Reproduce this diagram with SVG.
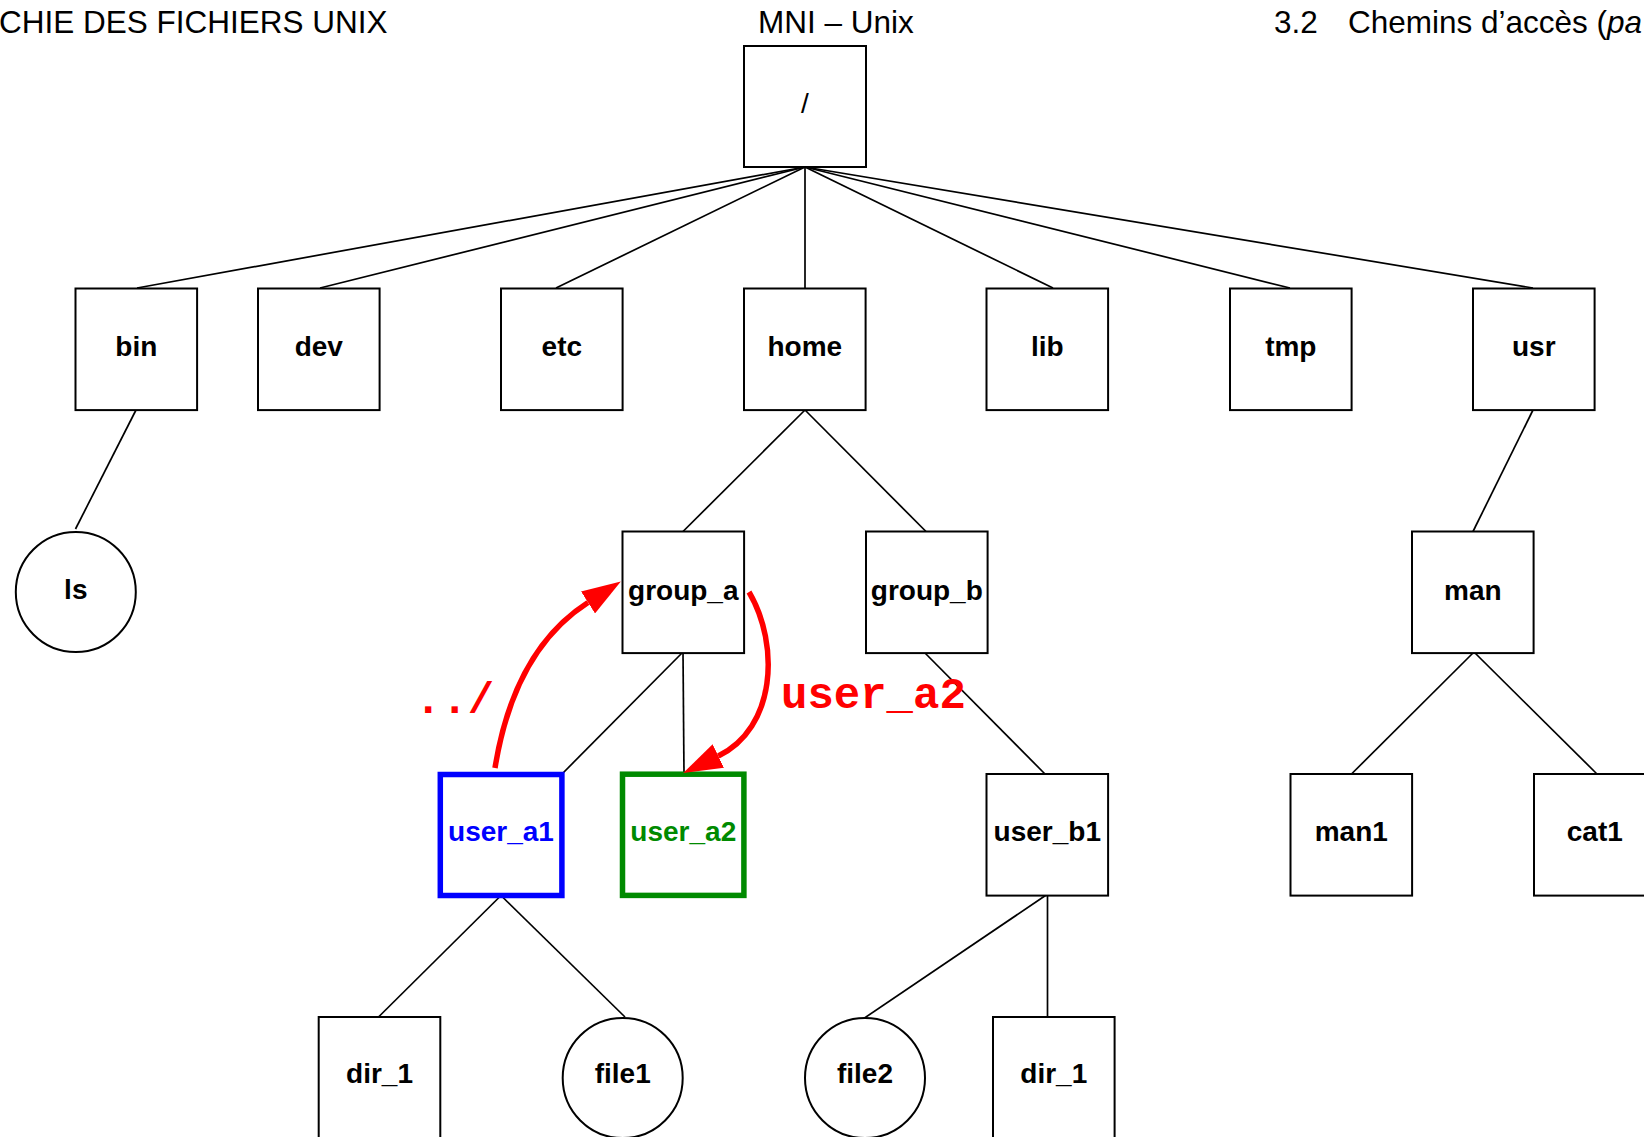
<svg xmlns="http://www.w3.org/2000/svg" width="1644" height="1137" viewBox="0 0 1644 1137">
  <style>
    .hdr { font-family: "Liberation Sans", Arial, sans-serif; font-size: 31.5px; fill: #000; }
    .box { fill: #fff; stroke: #000; stroke-width: 2; }
    .lbl { font-family: "Liberation Sans", Arial, sans-serif; font-size: 28px; font-weight: bold; text-anchor: middle; fill: #000; }
    .root-lbl { font-weight: normal; }
    .edge { stroke: #000; stroke-width: 1.7; fill: none; }
    .path { stroke: #ff0000; stroke-width: 5.5; fill: none; }
    .code { font-family: "Liberation Mono", "Courier New", monospace; font-weight: bold; fill: #ff0000; }
  </style>
  <defs>
    <marker id="redhead" markerUnits="userSpaceOnUse" viewBox="0 0 39 26" refX="0" refY="13" markerWidth="39" markerHeight="26" orient="auto">
      <polygon points="0,0 39,13 0,26" fill="#ff0000"/>
    </marker>
  </defs>
  <rect width="1644" height="1137" fill="#fff"/>

  <!-- page header -->
  <g id="header">
    <text class="hdr" x="-1" y="33">CHIE DES FICHIERS UNIX</text>
    <text class="hdr" x="758" y="33">MNI – Unix</text>
    <text class="hdr" y="33"><tspan x="1274">3.2</tspan><tspan x="1348">Chemins d’accès (</tspan><tspan font-style="italic">pa</tspan></text>
  </g>

  <!-- tree edges -->
  <g id="connectors">
    <line class="edge" x1="805" y1="167" x2="137" y2="288"/>
    <line class="edge" x1="805" y1="167" x2="320" y2="288"/>
    <line class="edge" x1="805" y1="167" x2="556" y2="288"/>
    <line class="edge" x1="805" y1="167" x2="805" y2="288"/>
    <line class="edge" x1="805" y1="167" x2="1053" y2="288"/>
    <line class="edge" x1="805" y1="167" x2="1290" y2="288"/>
    <line class="edge" x1="805" y1="167" x2="1533" y2="288"/>
    <line class="edge" x1="136" y1="410" x2="75.5" y2="529"/>
    <line class="edge" x1="805" y1="410" x2="683" y2="531.5"/>
    <line class="edge" x1="805" y1="410" x2="926" y2="531.5"/>
    <line class="edge" x1="1533" y1="410" x2="1473" y2="531.5"/>
    <line class="edge" x1="683" y1="652" x2="562" y2="774"/>
    <line class="edge" x1="683" y1="652" x2="684" y2="774"/>
    <line class="edge" x1="924" y1="652" x2="1045" y2="774"/>
    <line class="edge" x1="1474" y1="652" x2="1351.5" y2="774"/>
    <line class="edge" x1="1474" y1="652" x2="1597" y2="774"/>
    <line class="edge" x1="501" y1="895.5" x2="378.5" y2="1017"/>
    <line class="edge" x1="501" y1="895.5" x2="625" y2="1017"/>
    <line class="edge" x1="1045.5" y1="895.5" x2="863" y2="1019"/>
    <line class="edge" x1="1047.5" y1="895.5" x2="1047.5" y2="1017"/>
  </g>

  <!-- nodes -->
  <g id="n-root"><rect class="box" x="744" y="46" width="122" height="121"/><text class="lbl root-lbl" x="805" y="113">/</text></g>
  <g id="n-bin"><rect class="box" x="75.5" y="288.5" width="121.6" height="121.6"/><text class="lbl" x="136.3" y="356">bin</text></g>
  <g id="n-dev"><rect class="box" x="258" y="288.5" width="121.6" height="121.6"/><text class="lbl" x="318.8" y="356">dev</text></g>
  <g id="n-etc"><rect class="box" x="501" y="288.5" width="121.6" height="121.6"/><text class="lbl" x="561.8" y="356">etc</text></g>
  <g id="n-home"><rect class="box" x="744" y="288.5" width="121.6" height="121.6"/><text class="lbl" x="804.8" y="356">home</text></g>
  <g id="n-lib"><rect class="box" x="986.5" y="288.5" width="121.6" height="121.6"/><text class="lbl" x="1047.3" y="356">lib</text></g>
  <g id="n-tmp"><rect class="box" x="1230" y="288.5" width="121.6" height="121.6"/><text class="lbl" x="1290.8" y="356">tmp</text></g>
  <g id="n-usr"><rect class="box" x="1473" y="288.5" width="121.6" height="121.6"/><text class="lbl" x="1533.8" y="356">usr</text></g>

  <g id="n-ls"><circle class="box" cx="75.8" cy="592" r="60"/><text class="lbl" x="75.8" y="599">ls</text></g>
  <g id="n-group_a"><rect class="box" x="622.5" y="531.5" width="121.6" height="121.6"/><text class="lbl" x="683.3" y="600">group_a</text></g>
  <g id="n-group_b"><rect class="box" x="866" y="531.5" width="121.6" height="121.6"/><text class="lbl" x="926.8" y="600">group_b</text></g>
  <g id="n-man"><rect class="box" x="1412" y="531.5" width="121.6" height="121.6"/><text class="lbl" x="1472.8" y="600">man</text></g>

  <g id="n-user_a1"><rect x="440.3" y="774.5" width="121.6" height="121" fill="#fff" stroke="#0000ff" stroke-width="5.5"/><text class="lbl" x="501" y="841" style="fill:#0000ff">user_a1</text></g>
  <g id="n-user_a2"><rect x="622.5" y="774.2" width="121.4" height="121.2" fill="#fff" stroke="#008a00" stroke-width="5.5"/><text class="lbl" x="683.3" y="841" style="fill:#008a00">user_a2</text></g>
  <g id="n-user_b1"><rect class="box" x="986.5" y="774" width="121.6" height="121.6"/><text class="lbl" x="1047.3" y="841">user_b1</text></g>
  <g id="n-man1"><rect class="box" x="1290.5" y="774" width="121.6" height="121.6"/><text class="lbl" x="1351.3" y="841">man1</text></g>
  <g id="n-cat1"><rect class="box" x="1534" y="774" width="121.6" height="121.6"/><text class="lbl" x="1594.8" y="841">cat1</text></g>

  <g id="n-dir_1-a"><rect class="box" x="318.7" y="1017" width="121.6" height="121.6"/><text class="lbl" x="379.5" y="1083">dir_1</text></g>
  <g id="n-file1"><circle class="box" cx="622.7" cy="1078" r="60"/><text class="lbl" x="622.7" y="1083">file1</text></g>
  <g id="n-file2"><circle class="box" cx="865" cy="1078" r="60"/><text class="lbl" x="865" y="1083">file2</text></g>
  <g id="n-dir_1-b"><rect class="box" x="993" y="1017" width="121.6" height="121.6"/><text class="lbl" x="1053.8" y="1083">dir_1</text></g>

  <!-- relative path arrows -->
  <g id="paths">
    <path class="path" d="M495,768 Q514,650 588,602.5" marker-end="url(#redhead)"/>
    <path class="path" d="M749,592 C780,645 776,728 718.3,756" marker-end="url(#redhead)"/>
    <text class="code" x="415" y="713" font-size="44">../</text>
    <text class="code" x="781" y="708" font-size="44">user_a2</text>
  </g>
</svg>
